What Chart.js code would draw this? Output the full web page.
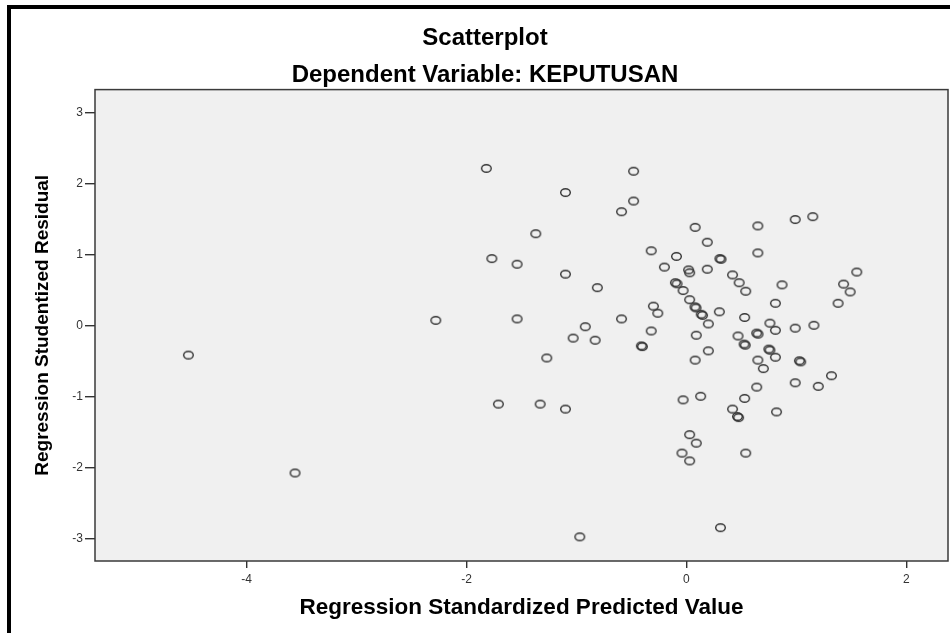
<!DOCTYPE html>
<html>
<head>
<meta charset="utf-8">
<script src="https://cdn.jsdelivr.net/npm/chart.js@4.4.1/dist/chart.umd.min.js"></script>
<style>
  html, body { margin: 0; padding: 0; background: #fff; }
  #wrap { position: relative; width: 950px; height: 633px; overflow: hidden; }
  #frame { position: absolute; left: 7px; top: 5px; width: 960px; height: 700px;
           border-top: 4px solid #000; border-left: 4px solid #000; pointer-events: none; }
  canvas { position: absolute; left: 0; top: 0; }
</style>
</head>
<body>
<div id="wrap">
  <!-- canvas runs 20px past the window; the plot frame ends at x=948 -->
  <canvas id="chart" width="970" height="633"></canvas>
  <div id="frame"></div>
</div>
<script>
const predicted = [
  -4.53, -3.56, -2.28, -1.82, -1.77, -1.54, -1.54, -1.71, -1.33, -1.10,
  -1.10, -1.10, -1.37, -1.27, -1.03, -0.92, -0.83, -0.81, -0.97, -0.59,
  -0.48, -0.48, -0.59, -0.32, -0.20, -0.30, -0.26, -0.32, -0.41, -0.40,
  -0.09, -0.10, -0.085, -0.03, 0.02, 0.03, 0.08, 0.19, 0.19, 0.03,
  0.078, 0.088, 0.135, 0.147, 0.20, 0.30, 0.09, 0.20, 0.08, 0.305,
  0.315, 0.65, 0.65, 0.99, 1.15, 0.42, 0.48, 0.54, 0.87, 1.55,
  1.43, 1.49, 1.38, 0.81, 0.53, 0.76, 0.81, 0.99, 1.16, 0.47,
  0.64, 0.652, 0.525, 0.535, 0.75, 0.76, 0.81, 0.65, 0.70, 1.028,
  1.04, 1.32, 0.99, 1.20, 0.64, 0.53, 0.13, -0.03, 0.42, 0.465,
  0.475, 0.82, 0.03, 0.09, -0.04, 0.03, 0.54, 0.31
];
const residual = [
  -0.42, -2.08, 0.07, 2.21, 0.94, 0.86, 0.09, -1.11, -1.11, -1.18,
  1.87, 0.72, 1.29, -0.46, -0.18, -0.02, -0.21, 0.53, -2.98, 1.60,
  1.75, 2.17, 0.09, 1.05, 0.82, 0.27, 0.17, -0.08, -0.29, -0.30,
  0.97, 0.60, 0.585, 0.49, 0.78, 0.74, 1.38, 1.17, 0.79, 0.36,
  0.26, 0.245, 0.155, 0.14, 0.02, 0.19, -0.14, -0.36, -0.49, 0.94,
  0.93, 1.40, 1.02, 1.49, 1.53, 0.71, 0.60, 0.48, 0.57, 0.75,
  0.58, 0.47, 0.31, 0.31, 0.11, 0.03, -0.07, -0.04, 0.00, -0.15,
  -0.11, -0.125, -0.265, -0.28, -0.335, -0.35, -0.45, -0.49, -0.61, -0.50,
  -0.515, -0.71, -0.81, -0.86, -0.87, -1.03, -1.00, -1.05, -1.18, -1.285,
  -1.30, -1.22, -1.54, -1.66, -1.80, -1.91, -1.80, -2.85
];
const xTicks = [-4, -2, 0, 2];
const yTicks = [-3, -2, -1, 0, 1, 2, 3];

const FONT = "'Liberation Sans', Arial, sans-serif";

// open elliptical marker like the SPSS output
function makeMarker() {
  const c = document.createElement('canvas');
  c.width = 13; c.height = 11;
  const g = c.getContext('2d');
  g.strokeStyle = '#333';
  g.lineWidth = 1.4;
  g.beginPath();
  g.ellipse(6.5, 5.5, 4.8, 3.8, 0, 0, Math.PI * 2);
  g.stroke();
  return c;
}

const plotBackground = {
  id: 'plotBackground',
  beforeDatasetsDraw(chart) {
    const { ctx, chartArea: a } = chart;
    ctx.save();
    ctx.fillStyle = '#f0f0f0';
    ctx.fillRect(a.left, a.top, a.right - a.left, a.bottom - a.top);
    ctx.restore();
  },
  afterDraw(chart) {
    const { ctx, chartArea: a } = chart;
    ctx.save();
    ctx.strokeStyle = '#3a3a3a';
    ctx.lineWidth = 1.5;
    ctx.strokeRect(a.left, a.top, a.right - a.left, a.bottom - a.top);
    ctx.restore();
  }
};

const points = predicted.map((x, i) => ({ x, y: residual[i] }));

new Chart(document.getElementById('chart'), {
  type: 'scatter',
  data: {
    datasets: [{
      data: points,
      pointStyle: makeMarker(),
      pointRadius: 5,
      pointHoverRadius: 5,
    }],
  },
  options: {
    responsive: false,
    animation: false,
    // equal side padding puts the title centre near x=485, as in SPSS
    layout: { padding: { left: 22, top: 0, right: 22, bottom: 0 } },
    plugins: {
      legend: { display: false },
      tooltip: { enabled: false },
      title: {
        display: true,
        text: 'Scatterplot',
        color: '#000',
        font: { family: FONT, size: 24, weight: 'bold' },
        padding: { top: 24, bottom: 0 },
      },
      subtitle: {
        display: true,
        text: 'Dependent Variable: KEPUTUSAN',
        color: '#000',
        font: { family: FONT, size: 24, weight: 'bold' },
        padding: { top: 8, bottom: 0 },
      },
    },
    scales: {
      x: {
        type: 'linear',
        min: -5.38,
        max: 2.38,
        afterBuildTicks: (s) => { s.ticks = xTicks.map(v => ({ value: v })); },
        afterFit: (s) => { s.height = 72; },
        grid: { drawOnChartArea: false, drawTicks: true, tickLength: 7, color: '#333', lineWidth: 1.4 },
        border: { display: false },
        ticks: { color: '#333', font: { family: FONT, size: 12 }, padding: 4 },
        title: {
          display: true,
          text: 'Regression Standardized Predicted Value',
          color: '#000',
          font: { family: FONT, size: 22.5, weight: 'bold' },
          padding: { top: 0, bottom: 12 },
        },
      },
      y: {
        type: 'linear',
        min: -3.32,
        max: 3.32,
        afterBuildTicks: (s) => { s.ticks = yTicks.map(v => ({ value: v })); },
        afterFit: (s) => { s.width = 73; },
        grid: { drawOnChartArea: false, drawTicks: true, tickLength: 10, color: '#333', lineWidth: 1.4 },
        border: { display: false },
        ticks: { color: '#333', font: { family: FONT, size: 12 }, padding: 2 },
        title: {
          display: true,
          text: 'Regression Studentized Residual',
          color: '#000',
          font: { family: FONT, size: 19, weight: 'bold' },
          padding: { top: 9, bottom: 0 },
        },
      },
    },
  },
  plugins: [plotBackground],
});
</script>
</body>
</html>
